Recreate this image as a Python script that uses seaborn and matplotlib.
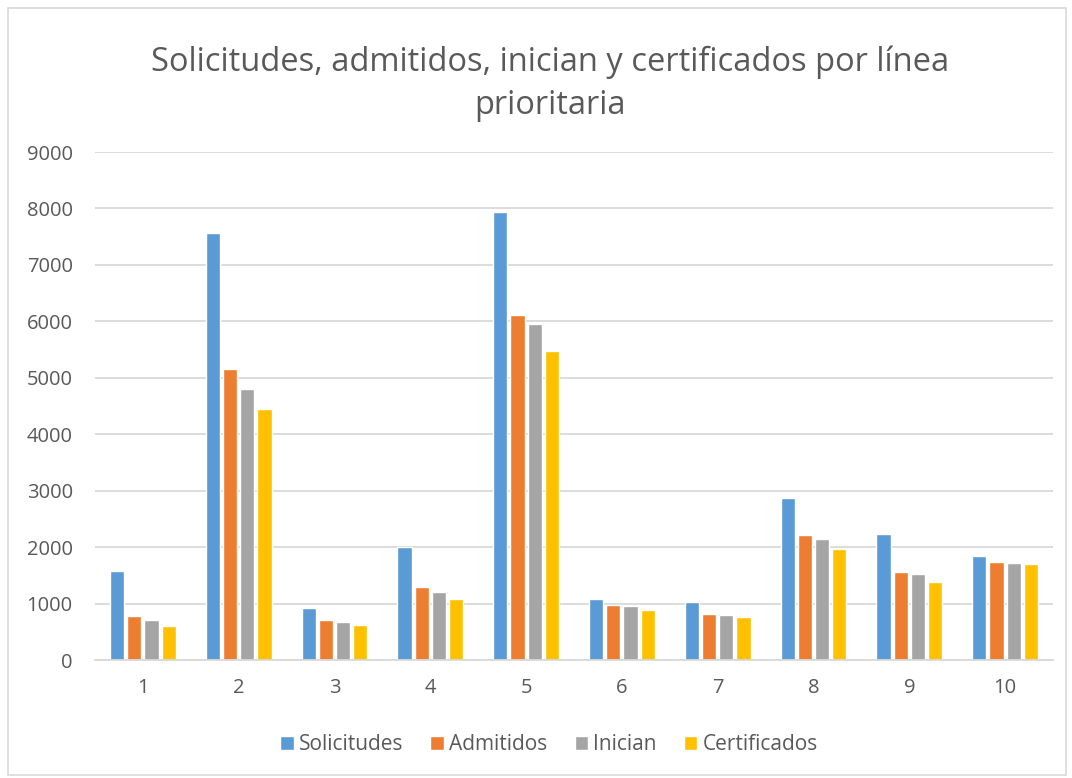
import matplotlib
matplotlib.use("Agg")
import matplotlib.pyplot as plt
from matplotlib.patches import Rectangle
import pandas as pd
import seaborn as sns

lineas = ["1", "2", "3", "4", "5", "6", "7", "8", "9", "10"]
solicitudes = [1570, 7560, 920, 2000, 7930, 1080, 1030, 2870, 2240, 1850]
admitidos = [785, 5160, 710, 1290, 6120, 980, 820, 2220, 1565, 1745]
inician = [715, 4810, 675, 1200, 5950, 960, 795, 2135, 1515, 1720]
certificados = [600, 4450, 620, 1075, 5470, 890, 760, 1975, 1380, 1695]
series = ["Solicitudes", "Admitidos", "Inician", "Certificados"]
colores = ["#5B9BD5", "#ED7D31", "#A5A5A5", "#FFC000"]
y_ticks = [0, 1000, 2000, 3000, 4000, 5000, 6000, 7000, 8000, 9000]

rows = []
for nombre, valores in zip(series, [solicitudes, admitidos, inician, certificados]):
    for linea, v in zip(lineas, valores):
        rows.append({"linea": linea, "serie": nombre, "valor": v})
df = pd.DataFrame(rows)

sns.set_theme(style="white")
plt.rcParams["font.family"] = ["Open Sans", "DejaVu Sans"]

fig = plt.figure(figsize=(10.72, 7.78), dpi=100)
ax = fig.add_axes([95 / 1072, 1 - 660 / 778, 958 / 1072, 508 / 778])

sns.barplot(data=df, x="linea", y="valor", hue="serie", order=lineas,
            hue_order=series, palette=colores, width=0.72, gap=0.18,
            saturation=1, errorbar=None, ax=ax)

ax.set_ylim(0, 9000)
ax.set_xlim(-0.5, len(lineas) - 0.5)
ax.set_yticks(y_ticks)
ax.set_yticklabels([str(t) for t in y_ticks])
ax.yaxis.grid(True, color="#D9D9D9", linewidth=1.3)
ax.set_axisbelow(True)
for side in ["top", "right", "left"]:
    ax.spines[side].set_visible(False)
ax.spines["bottom"].set_color("#D9D9D9")
ax.spines["bottom"].set_linewidth(1.3)
ax.tick_params(axis="both", length=0, labelsize=14.5, labelcolor="#595959")
ax.tick_params(axis="y", pad=16)
ax.tick_params(axis="x", pad=13)
ax.set_xlabel("")
ax.set_ylabel("")

leg = ax.legend(loc="center", bbox_to_anchor=((549 - 95) / 958, 1 - (745 - 152) / 508),
                ncol=4, frameon=False, fontsize=15, handlelength=0.65,
                handleheight=0.65, handletextpad=0.25, columnspacing=1.3)
for t in leg.get_texts():
    t.set_color("#595959")

fig.text(550 / 1072, 1 - 62 / 778, "Solicitudes, admitidos, inician y certificados por línea",
         ha="center", va="center", fontsize=23.5, color="#595959")
fig.text(550 / 1072, 1 - 106 / 778, "prioritaria",
         ha="center", va="center", fontsize=23.5, color="#595959")

fig.patches.append(Rectangle((8 / 1072, 1 - 775 / 778), 1058 / 1072, 767 / 778,
                             transform=fig.transFigure, fill=False,
                             edgecolor="#D9D9D9", linewidth=1.2))

fig.savefig("out.png", dpi=100, facecolor="white")
